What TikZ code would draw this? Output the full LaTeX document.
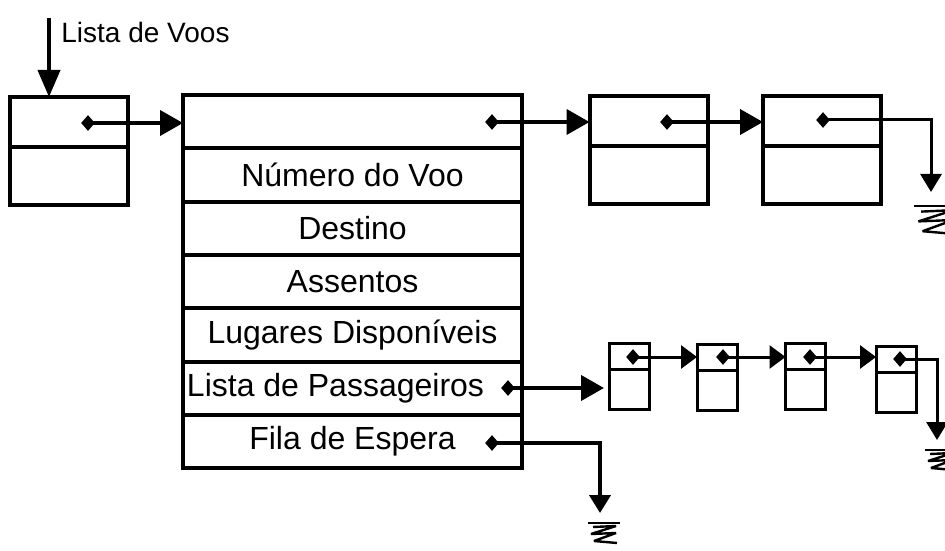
\documentclass[tikz,border=0pt]{standalone}
\usepackage{fontspec}
\setmainfont{Liberation Sans}
\usetikzlibrary{positioning,arrows.meta,calc,shapes.geometric}
\tikzset{
  cell/.style={draw, line width=2pt, inner sep=0pt, outer sep=0pt},
  headcell/.style={cell, minimum width=59pt, minimum height=25pt},
  tailcell/.style={cell, minimum width=59pt, minimum height=29pt},
  minihead/.style={draw, line width=1.5pt, inner sep=0pt, outer sep=0pt, minimum width=20pt, minimum height=13pt},
  minitail/.style={draw, line width=1.5pt, inner sep=0pt, outer sep=0pt, minimum width=20pt, minimum height=20pt},
  field/.style={cell, minimum width=169.5pt, minimum height=26.65pt, font=\fontsize{16}{19}\selectfont},
  ptr/.style={diamond, fill, inner sep=0pt, minimum width=7pt, minimum height=8pt},
  headarrow/.style={-{Triangle[length=13.5pt, width=11pt]}, line width=2pt},
  bigarrow/.style={-{Triangle[length=11.5pt, width=12.5pt]}, line width=2pt},
  smallarrow/.style={-{Triangle[length=8pt, width=11.5pt]}, line width=1.5pt},
  nilarrow/.style={-{Triangle[length=9pt, width=10.5pt]}, line width=1.5pt},
  ground/.pic={
    \draw[line width=1.2pt] (-12,10) -- (20,10);
    \draw[line width=1.2pt, line join=bevel] (-7,14) -- (16,13) -- (-9,21) -- (16,20) -- (-6,28) -- (17,30);
  }
}
\begin{document}
% units: 1 px of the 945x550 layout = 0.5pt, y grows downwards
\begin{tikzpicture}[x=0.5pt, y=-0.5pt]
  \clip (0,0) rectangle (945,550);

  % head of the flight list
  \coordinate (vstart) at (49,18);
  \node[anchor=base west, inner sep=0pt, font=\fontsize{14}{16}\selectfont] (lvlabel) at (61,43) {Lista de Voos};
  \node[headcell] (v0t) at (69,122) {};
  \node[tailcell, below=0pt of v0t] (v0b) {};
  \node[ptr] (d0) at (88,123) {};

  % flight record
  \foreach \txt [count=\i from 0] in {\relax, Número do Voo, Destino, Assentos, Lugares Disponíveis, \relax, Fila de Espera}
    \node[field] (r\i) at (352.5, {121.7+53.3*\i}) {\txt};
  \node[xshift=-8.5pt, font=\fontsize{16}{19}\selectfont] (r5txt) at (r5) {Lista de Passageiros};
  \node[ptr] (dm) at (492,122) {};
  \node[ptr] (dp) at (508,388) {};
  \node[ptr] (df) at (492,443) {};

  % next flights
  \node[headcell] (v2t) at (648.5,121) {};
  \node[tailcell, below=0pt of v2t] (v2b) {};
  \node[ptr] (d2) at (667,122) {};
  \node[headcell] (v3t) at (822,121) {};
  \node[tailcell, below=0pt of v3t] (v3b) {};
  \node[ptr] (d3) at (823,120) {};

  % passengers
  \node[minihead] (p1t) at (629,356) {};
  \node[minitail, below=0pt of p1t] (p1b) {};
  \node[minihead] (p2t) at (717,357) {};
  \node[minitail, below=0pt of p2t] (p2b) {};
  \node[minihead] (p3t) at (805.5,356) {};
  \node[minitail, below=0pt of p3t] (p3b) {};
  \node[minihead] (p4t) at (896,359.5) {};
  \node[minitail, below=0pt of p4t] (p4b) {};
  \node[ptr] (q1) at (633,357) {};
  \node[ptr] (q2) at (723,357) {};
  \node[ptr] (q3) at (810,357) {};
  \node[ptr] (q4) at (900,359) {};

  \coordinate (g1) at (931,192);
  \coordinate (g2) at (937,440);
  \coordinate (g3) at (600,513);

  % pointers
  \draw[headarrow] (vstart) -- (vstart |- v0t.north);
  \draw[bigarrow] (d0.center) -- (d0 -| r0.west);
  \draw[bigarrow] (dm.center) -- (dm -| v2t.west);
  \draw[bigarrow] (d2.center) -- (d2 -| v3t.west);
  \draw[nilarrow] (d3.center) -| (g1);
  \draw[bigarrow, shorten >=2.5pt] (dp.center) -- (dp -| p1b.west);
  \draw[smallarrow] (q1.center) -- (q1 -| p2t.west);
  \draw[smallarrow] (q2.center) -- (q2 -| p3t.west);
  \draw[smallarrow] (q3.center) -- (q3 -| p4t.west);
  \draw[nilarrow] (q4.center) -| (g2);
  \draw[nilarrow, line width=2pt] (df.center) -| (g3);

  \pic[scale=1.4] at (g1) {ground};
  \pic at (g2) {ground};
  \pic at (g3) {ground};
\end{tikzpicture}
\end{document}
